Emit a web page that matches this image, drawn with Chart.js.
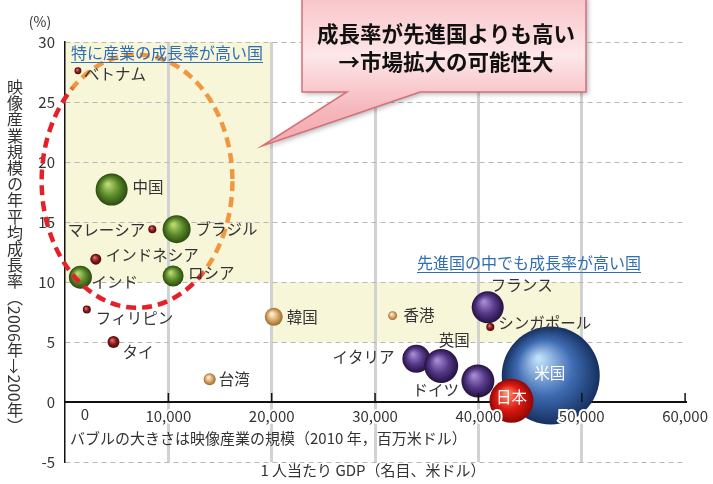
<!DOCTYPE html>
<html><head><meta charset="utf-8">
<script src="https://cdn.jsdelivr.net/npm/chart.js@4.4.1/dist/chart.umd.min.js"></script>
<style>
html,body{margin:0;padding:0;background:#fff;}
#wrap{position:relative;width:713px;height:484px;}
#ytitle{position:absolute;left:7px;top:79px;writing-mode:vertical-rl;font-family:"Noto Sans CJK JP";font-size:16px;letter-spacing:0.2px;color:#333;line-height:1;white-space:nowrap;}
</style></head><body>
<div id="wrap"><canvas id="c" width="713" height="484"></canvas>
<div id="ytitle">映像産業規模の年平均成長率（2006年→200年）</div></div>
<script>
// ---- data ----
const countries = ['米国','イタリア','英国','ドイツ','日本','フランス','シンガポール','香港','韓国','台湾','中国','ブラジル','マレーシア','インドネシア','インド','ロシア','フィリピン','タイ','ベトナム'];
const gdpPerCapita = [47000,34000,36400,39950,43200,40900,41150,31700,20200,14000,4510,10800,8450,2980,1490,10460,2110,4690,1250];
const growthRate = [2.2,3.6,3.0,1.75,0.1,7.9,6.25,7.2,7.1,1.9,17.7,14.4,14.4,11.9,10.4,10.5,7.7,5.0,27.6];
const marketSize = [240100,19600,28900,27200,48400,25600,1600,2000,8100,3600,25600,19600,1600,3000,13200,11000,1600,3600,1200];
const groups = ['us','eu','eu','eu','jp','eu','asean','nies','nies','nies','brics','brics','asean','asean','brics','brics','asean','asean','asean'];
const xTicks = [0,10000,20000,30000,40000,50000,60000];
const yTicks = [-5,0,5,10,15,20,25,30];

// ---- styles ----
const FONT = '"Noto Sans CJK JP","Noto Sans",sans-serif';
const palette = {
  us:['#bfe0fa','#3f6bb2','#15305f'],
  jp:['#ff8d6e','#dc1a12','#8e0705'],
  eu:['#a98dd2','#56388a','#24123f'],
  nies:['#fff6e6','#dcaa6c','#9a6a30'],
  brics:['#bddc78','#5c8c2a','#2b4a10'],
  asean:['#e4776a','#8c1c1c','#4a0707']
};
const labelStyle = {
  '米国':[-1,-2,'center','#fff'], 'イタリア':[-22,-2,'right'], '英国':[13,-26,'center'],
  'ドイツ':[-19,9,'right'], '日本':[0,-4,'center','#fff'], 'フランス':[3,-22,'left'],
  'シンガポール':[8,-4,'left'], '香港':[11,0,'left'], '韓国':[13,0,'left'], '台湾':[9,0,'left'],
  '中国':[21,-2,'left'], 'ブラジル':[19,0,'left'], 'マレーシア':[-7,1,'right'],
  'インドネシア':[10,-4,'left'], 'インド':[11,5,'left'], 'ロシア':[15,-3,'left'],
  'フィリピン':[9,9,'left'], 'タイ':[9,10,'left'], 'ベトナム':[6,3,'left']
};

function sphere(ctx){
  const g = palette[groups[ctx.dataIndex]] || palette.eu;
  const chart = ctx.chart, sx = chart.scales.x, sy = chart.scales.y, raw = ctx.raw;
  if(!raw || !sx || !sy) return g[1];
  const px = sx.getPixelForValue(raw.x), py = sy.getPixelForValue(raw.y), r = raw.r;
  if(!isFinite(px) || !isFinite(py)) return g[1];
  const grad = chart.ctx.createRadialGradient(px - r*0.25, py - r*0.35, r*0.04, px, py, r);
  grad.addColorStop(0, g[0]); grad.addColorStop(0.55, g[1]); grad.addColorStop(1, g[2]);
  return grad;
}

const bubbleData = countries.map((c,i)=>({x:gdpPerCapita[i], y:growthRate[i], r:Math.sqrt(marketSize[i])/10}));

const decor = {
  id:'decor',
  beforeDraw(chart){
    const c = chart.ctx, sx = chart.scales.x, sy = chart.scales.y;
    c.save();
    c.fillStyle = '#fff'; c.fillRect(0,0,chart.width,chart.height);
    c.fillStyle = '#f7f6d9';
    let x1 = sx.getPixelForValue(0), x2 = sx.getPixelForValue(20000), y1 = sy.getPixelForValue(30), y2 = sy.getPixelForValue(10);
    c.fillRect(x1,y1,x2-x1,y2-y1);
    x1 = sx.getPixelForValue(20000); x2 = sx.getPixelForValue(50000); y1 = sy.getPixelForValue(10); y2 = sy.getPixelForValue(5);
    c.fillRect(x1,y1,x2-x1,y2-y1);
    c.restore();
  },
  afterDatasetsDraw(chart){
    const c = chart.ctx, sx = chart.scales.x, sy = chart.scales.y;
    c.save();
    const cx = sx.getPixelForValue(6970), cy = sy.getPixelForValue(18.4);
    const rx = sx.getPixelForValue(6970+9230)-cx, ry = cy - sy.getPixelForValue(18.4+10.55);
    const gr = c.createLinearGradient(cx-60, cy+43, cx+60, cy-43);
    gr.addColorStop(0,'#e6202a'); gr.addColorStop(0.47,'#e6202a'); gr.addColorStop(0.53,'#f0973f'); gr.addColorStop(1,'#f0973f');
    c.strokeStyle = gr; c.lineWidth = 4.5; c.setLineDash([10,6]);
    c.beginPath(); c.ellipse(cx,cy,rx,ry,0,0,Math.PI*2); c.stroke();
    c.restore();
    const meta = chart.getDatasetMeta(0);
    c.save();
    c.font = '15.5px '+FONT; c.textBaseline = 'middle';
    meta.data.forEach((el,i)=>{
      const s = labelStyle[countries[i]];
      c.fillStyle = s[3] || '#333'; c.textAlign = s[2];
      c.fillText(countries[i], el.x + s[0], el.y + s[1]);
    });
    c.restore();
    c.save();
    c.strokeStyle = '#111'; c.lineWidth = 1.5;
    const y0 = sy.getPixelForValue(0);
    xTicks.forEach(v=>{ if(v===0) return; const px = sx.getPixelForValue(v); c.beginPath(); c.moveTo(px,y0); c.lineTo(px,y0-9); c.stroke(); });
    // the "0" tick label sits a little right of the axis in the original
    c.fillStyle = '#333'; c.font = '15px '+FONT; c.textAlign = 'center'; c.textBaseline = 'top';
    c.fillText('0', sx.getPixelForValue(0) + 20, y0 + 5);
    c.restore();
  },
  afterDraw(chart){
    const c = chart.ctx;
    c.save();
    c.textBaseline = 'middle';
    c.fillStyle = '#333';
    c.font = '14px '+FONT; c.textAlign = 'center';
    c.fillText('(%)', 40, 22);
    c.font = '15px '+FONT; c.textAlign = 'left';
    c.fillText('バブルの大きさは映像産業の規模（2010 年，百万米ドル）', 70, 438);
    c.textAlign = 'center';
    c.fillText('1 人当たり GDP（名目、米ドル）', 373, 470);
    c.fillStyle = '#2f6eb5'; c.strokeStyle = '#2f6eb5'; c.lineWidth = 1;
    c.font = '16px '+FONT; c.textAlign = 'left';
    const h1 = '特に産業の成長率が高い国', h2 = '先進国の中でも成長率が高い国';
    let w = c.measureText(h1).width; c.fillText(h1, 71, 53);
    c.beginPath(); c.moveTo(71,62.5); c.lineTo(71+w,62.5); c.stroke();
    w = c.measureText(h2).width; c.fillText(h2, 417, 263);
    c.beginPath(); c.moveTo(417,272.5); c.lineTo(417+w,272.5); c.stroke();
    c.save();
    c.shadowColor = 'rgba(0,0,0,0.3)'; c.shadowBlur = 5; c.shadowOffsetX = 2; c.shadowOffsetY = 2;
    const L=302,R=586,T=-4,B=92;
    c.beginPath();
    c.moveTo(L,T); c.lineTo(R,T); c.lineTo(R,B); c.lineTo(420,B); c.lineTo(262,146); c.lineTo(347,B); c.lineTo(L,B); c.closePath();
    const fg = c.createLinearGradient(0,T,0,146);
    fg.addColorStop(0,'#f8c4c8'); fg.addColorStop(0.4,'#fde7e9'); fg.addColorStop(0.75,'#f6b8bd'); fg.addColorStop(1,'#f3a9af');
    c.fillStyle = fg; c.fill();
    c.shadowColor = 'transparent';
    c.strokeStyle = '#d5707a'; c.lineWidth = 1.5; c.stroke();
    c.restore();
    c.fillStyle = '#111'; c.font = 'bold 21.5px '+FONT; c.textAlign = 'center';
    c.fillText('成長率が先進国よりも高い', 446, 34);
    c.fillText('→市場拡大の可能性大', 446, 62);
    c.restore();
  }
};

new Chart(document.getElementById('c'), {
  type:'bubble',
  data:{ datasets:[{ data:bubbleData, backgroundColor:sphere, borderWidth:0, hoverBorderWidth:0, clip:false }] },
  options:{
    responsive:false, animation:false, events:[], devicePixelRatio:1,
    layout:{autoPadding:false, padding:{top:42,right:24,bottom:22,left:0}},
    plugins:{legend:{display:false}, tooltip:{enabled:false}},
    scales:{
      x:{ type:'linear', min:0, max:60000, position:{y:0},
          afterBuildTicks:s=>{ s.ticks = xTicks.map(v=>({value:v})); },
          grid:{ color:ctx=> (ctx.tick && (ctx.tick.value===0 || ctx.tick.value===60000)) ? 'rgba(0,0,0,0)' : '#d2d2d2', lineWidth:3, drawTicks:false },
          border:{ display:true, color:'#111', width:2 },
          ticks:{ z:1, padding:5, maxRotation:0, autoSkip:false, color:'#333', font:{family:FONT,size:15},
                  textStrokeColor:'#fff', textStrokeWidth:4,
                  callback:v=> v===0 ? '' : v.toLocaleString('en-US') } },
      y:{ type:'linear', min:-5, max:30, position:'left',
          afterBuildTicks:s=>{ s.ticks = yTicks.map(v=>({value:v})); },
          afterFit:s=>{ s.width = 65; },
          grid:{ color:'#b8b8b8', lineWidth:1, drawTicks:false },
          border:{ display:true, color:'#111', width:1.5, dash:[5,4] },
          ticks:{ padding:10, color:'#333', font:{family:FONT,size:15}, callback:v=>String(v) } }
    }
  },
  plugins:[decor]
});
</script>
</body></html>
